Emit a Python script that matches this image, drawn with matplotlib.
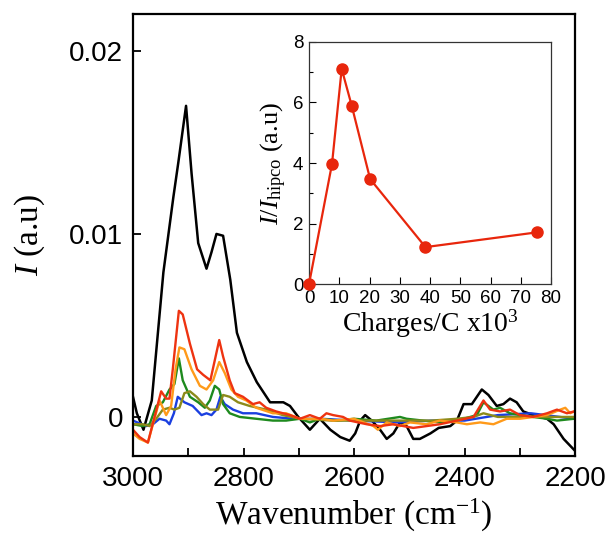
import matplotlib
matplotlib.use('Agg')
import matplotlib.pyplot as plt
from matplotlib.ticker import MultipleLocator

plt.rcParams['font.family'] = ['Liberation Sans', 'DejaVu Sans']
plt.rcParams['mathtext.fontset'] = 'custom'
plt.rcParams['mathtext.rm'] = 'Liberation Serif'
plt.rcParams['mathtext.it'] = 'Liberation Serif:italic'

# Spectra (wavenumber, intensity)
wn_black = [3000, 2993, 2981, 2966, 2945, 2927, 2918, 2904, 2894, 2882, 2867, 2858, 2849, 2837,
            2824, 2812, 2794, 2776, 2752, 2728, 2716, 2701, 2680, 2662, 2643, 2625, 2608, 2598,
            2589, 2580, 2568, 2553, 2541, 2529, 2517, 2505, 2493, 2481, 2462, 2447, 2426, 2414,
            2402, 2387, 2369, 2357, 2342, 2330, 2318, 2306, 2294, 2276, 2251, 2239, 2221, 2202]
i_black = [0.0011, 0.0002, -0.0007, 0.0009, 0.0079, 0.0120, 0.0139, 0.0170, 0.0133, 0.0095, 0.0081,
           0.0090, 0.0100, 0.0099, 0.0075, 0.0046, 0.0030, 0.0019, 0.0008, 0.0008, 0.0006, 0.0000,
           -0.0007, -0.0001, -0.0007, -0.0011, -0.0013, -0.0009, -0.0002, 0.0001, -0.0002, -0.0007,
           -0.0012, -0.0009, -0.0003, -0.0005, -0.0012, -0.0012, -0.0009, -0.0006, -0.0005, -0.0002,
           0.0007, 0.0007, 0.0015, 0.0012, 0.0006, 0.0007, 0.0010, 0.0008, 0.0003, 0.0001, -0.0001,
           -0.0004, -0.0012, -0.0018]

wn_red = [3000, 2988, 2973, 2961, 2949, 2940, 2934, 2928, 2917, 2910, 2897, 2884, 2873, 2860, 2852,
          2844, 2837, 2825, 2816, 2801, 2783, 2771, 2759, 2741, 2716, 2698, 2680, 2662, 2650, 2638,
          2620, 2608, 2577, 2553, 2529, 2493, 2469, 2445, 2414, 2384, 2366, 2354, 2336, 2318, 2300,
          2276, 2251, 2233, 2215, 2202]
i_red = [-0.0007, -0.0011, -0.0014, 0.0000, 0.0014, 0.0010, 0.0010, 0.0026, 0.0058, 0.0056, 0.0040,
         0.0026, 0.0023, 0.0020, 0.0031, 0.0042, 0.0033, 0.0020, 0.0013, 0.0011, 0.0007, 0.0008,
         0.0005, 0.0003, 0.0001, -0.0001, 0.0001, -0.0001, 0.0002, 0.0001, 0.0000, -0.0002, -0.0004,
         -0.0005, -0.0004, -0.0006, -0.0005, -0.0004, -0.0002, 0.0000, 0.0009, 0.0004, 0.0003,
         0.0004, 0.0001, 0.0000, 0.0002, 0.0004, 0.0002, 0.0003]

wn_orange = [3000, 2988, 2973, 2964, 2952, 2940, 2931, 2923, 2916, 2907, 2894, 2879, 2867, 2855,
             2844, 2834, 2822, 2810, 2795, 2777, 2747, 2723, 2698, 2660, 2638, 2600, 2565, 2557,
             2541, 2517, 2499, 2469, 2445, 2414, 2396, 2372, 2348, 2324, 2300, 2276, 2251, 2227,
             2218, 2209, 2202]
i_orange = [-0.0009, -0.0012, -0.0014, -0.0004, 0.0009, 0.0001, 0.0006, 0.0026, 0.0038, 0.0037,
            0.0026, 0.0017, 0.0015, 0.0020, 0.0030, 0.0024, 0.0015, 0.0011, 0.0009, 0.0005, 0.0002,
            0.0002, -0.0001, -0.0001, -0.0002, -0.0001, -0.0005, -0.0007, -0.0003, -0.0005,
            -0.0003, -0.0004, -0.0002, -0.0003, -0.0004, -0.0003, -0.0004, -0.0001, -0.0001,
            0.0000, 0.0001, 0.0004, 0.0005, 0.0002, 0.0003]

wn_green = [3000, 2982, 2970, 2958, 2946, 2934, 2925, 2917, 2910, 2897, 2882, 2870, 2861, 2852,
            2844, 2837, 2825, 2807, 2777, 2747, 2723, 2698, 2680, 2662, 2630, 2600, 2560, 2517,
            2505, 2475, 2445, 2414, 2378, 2366, 2348, 2336, 2318, 2300, 2276, 2251, 2233, 2202]
i_green = [-0.0004, -0.0005, -0.0004, 0.0006, 0.0008, 0.0015, 0.0018, 0.0032, 0.0020, 0.0011,
           0.0008, 0.0005, 0.0009, 0.0017, 0.0015, 0.0007, 0.0002, 0.0000, -0.0001, -0.0002,
           -0.0002, -0.0001, -0.0003, -0.0001, -0.0002, -0.0001, -0.0002, 0.0000, -0.0001,
           -0.0002, -0.0003, -0.0002, 0.0001, 0.0008, 0.0004, 0.0005, 0.0002, 0.0001, 0.0000,
           -0.0001, -0.0002, -0.0001]

wn_blue = [3000, 2976, 2964, 2952, 2940, 2934, 2926, 2919, 2907, 2892, 2876, 2867, 2858, 2849,
           2842, 2834, 2819, 2801, 2777, 2747, 2710, 2660, 2600, 2520, 2460, 2400, 2340, 2280, 2202]
i_blue = [-0.0002, -0.0005, -0.0004, -0.0001, -0.0002, -0.0004, 0.0002, 0.0011, 0.0008, 0.0006,
          0.0001, 0.0002, 0.0001, 0.0004, 0.0011, 0.0007, 0.0004, 0.0002, 0.0002, 0.0000, -0.0001,
          -0.0001, -0.0002, -0.0003, -0.0002, -0.0002, 0.0001, 0.0002, -0.0001]

wn_olive = [3000, 2982, 2970, 2958, 2946, 2934, 2925, 2916, 2907, 2897, 2885, 2873, 2861, 2846,
            2837, 2825, 2810, 2789, 2759, 2729, 2698, 2640, 2580, 2520, 2460, 2414, 2384, 2366,
            2340, 2280, 2202]
i_olive = [-0.0004, -0.0004, -0.0005, -0.0001, 0.0004, 0.0005, 0.0004, 0.0005, 0.0013, 0.0014,
           0.0011, 0.0007, 0.0004, 0.0004, 0.0012, 0.0011, 0.0008, 0.0006, 0.0004, 0.0001, -0.0001,
           -0.0002, -0.0002, -0.0002, -0.0002, -0.0001, 0.0000, 0.0002, 0.0000, 0.0000, 0.0000]

# Inset data
charges = [0, 7.6, 10.8, 14.1, 20.2, 38.5, 75.5]
ratio = [0, 3.97, 7.11, 5.9, 3.47, 1.22, 1.71]

fig = plt.figure(figsize=(6.1, 5.37), dpi=100)
ax = fig.add_axes([0.218, 0.151, 0.725, 0.823])

ax.plot(wn_black, i_black, color='black', lw=1.8)
ax.plot(wn_blue, i_blue, color='#1a3fe0', lw=1.7)
ax.plot(wn_green, i_green, color='#1e8a1e', lw=1.7)
ax.plot(wn_olive, i_olive, color='#8c8a1a', lw=1.7)
ax.plot(wn_orange, i_orange, color='#ff9a1a', lw=1.7)
ax.plot(wn_red, i_red, color='#ee3311', lw=1.7)

ax.set_xlim(3000, 2200)
ax.set_ylim(-0.00213, 0.02202)
ax.set_xticks([3000, 2800, 2600, 2400, 2200])
ax.xaxis.set_minor_locator(MultipleLocator(100))
ax.set_yticks([0, 0.01, 0.02], labels=['0', '0.01', '0.02'])
ax.tick_params(which='both', direction='in', length=6, width=1.3, labelsize=20)
ax.tick_params(axis='y', pad=7)
ax.tick_params(axis='x', pad=7)
for s in ax.spines.values():
    s.set_linewidth(1.6)

ax.set_xlabel('Wavenumber (cm$^{-1}$)', family='Liberation Serif', fontsize=24, labelpad=4)
ax.set_ylabel('$I$ (a.u)', family='Liberation Serif', fontsize=24, labelpad=16)

# Inset
axin = fig.add_axes([0.5066, 0.4711, 0.3967, 0.4507])
axin.plot(charges, ratio, color='#e8260c', lw=1.6, marker='o', ms=8, clip_on=False, zorder=3)
axin.set_xlim(0, 80)
axin.set_ylim(0, 8)
axin.set_xticks(range(0, 81, 10))
axin.set_yticks([0, 2, 4, 6, 8])
axin.yaxis.set_minor_locator(MultipleLocator(1))
axin.tick_params(which='major', direction='in', length=5, width=0.8, labelsize=13.5, pad=4)
axin.tick_params(which='minor', direction='in', length=3, width=0.8)
for s in axin.spines.values():
    s.set_linewidth(0.9)
    s.set_color('#333333')
axin.set_xlabel('Charges/C x10$^{3}$', family='Liberation Serif', fontsize=20, labelpad=1)
axin.set_ylabel('$I/I_{\\mathrm{hipco}}$ (a.u)', family='Liberation Serif', fontsize=19, labelpad=3)

fig.savefig('out.png', dpi=100)
